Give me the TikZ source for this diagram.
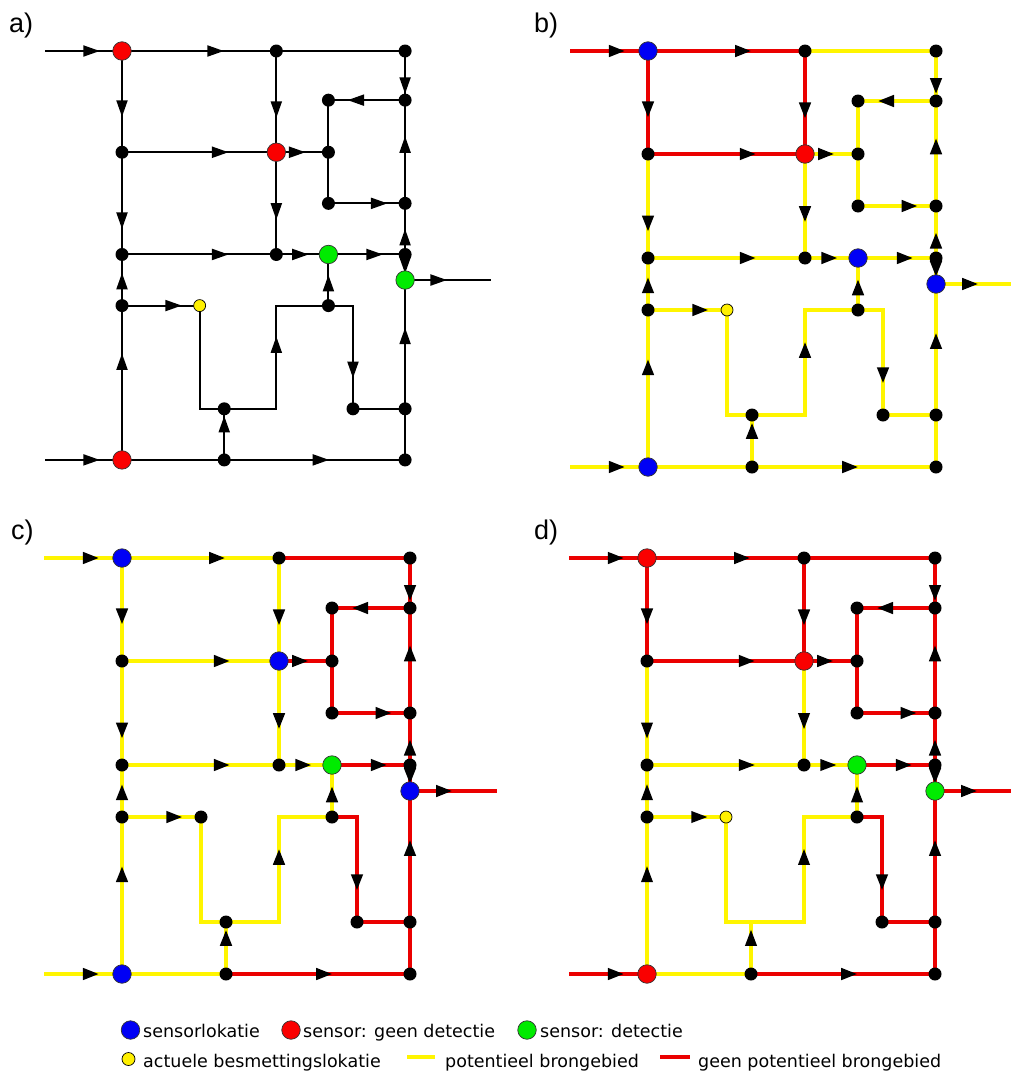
\documentclass[tikz,border=0pt]{standalone}
\usepackage{fontspec}
\setmainfont{DejaVu Sans}
\newfontfamily\labfont{Liberation Sans}
\usetikzlibrary{arrows.meta,decorations.markings,backgrounds}
\definecolor{lnred}{RGB}{235,0,0}
\definecolor{lnyel}{RGB}{255,245,0}
\definecolor{snred}{RGB}{250,0,0}
\definecolor{snblue}{RGB}{0,0,245}
\definecolor{sngreen}{RGB}{0,235,0}
\definecolor{ynode}{RGB}{255,240,0}
\tikzset{
  bdot/.style={circle,fill=black,inner sep=0pt,minimum size=13pt},
  sens/.style={circle,draw=black!80,line width=0.7pt,fill=#1,inner sep=0pt,minimum size=18.5pt},
  ysrc/.style={circle,draw=black,line width=0.7pt,fill=ynode,inner sep=0pt,minimum size=12pt},
  lk/.style={draw=black,line width=2pt},
  lr/.style={draw=lnred,line width=4pt},
  ly/.style={draw=lnyel,line width=4.2pt},
  lyr/.style={draw=lnyel,line width=3.4pt,preaction={draw=lnred,line width=4.8pt}},
  tipat/.style={postaction={decorate,decoration={markings,mark=at position #1 with {\arrow{Triangle[length=16.5pt,width=11pt,color=black]}}}}},
  lgtext/.style={anchor=base west,inner sep=0pt,font=\fontsize{17.5}{20}\selectfont},
  panlab/.style={anchor=base west,inner sep=0pt,font=\labfont\fontsize{27}{30}\selectfont},
}
\newcommand\netnodes[7]{%
 \node[sens=#1] (S1) at (0,0) {};
 \node[bdot] (T2) at (157,0) {};
 \node[bdot] (T3) at (288,0) {};
 \node[bdot] (N1) at (288,50) {};
 \node[bdot] (N2) at (210,50) {};
 \node[bdot] (L1) at (0,103) {};
 \node[sens=#2] (S2) at (157,103) {};
 \node[bdot] (N3) at (210,103) {};
 \node[bdot] (N4) at (210,155) {};
 \node[bdot] (N5) at (288,155) {};
 \node[bdot] (L2) at (0,207) {};
 \node[bdot] (M2) at (157,207) {};
 \node[sens=#3] (S3) at (210,207) {};
 \node[bdot] (N6) at (288,207) {};
 \node[sens=#4] (S4) at (288,233) {};
 \coordinate (OUT) at (375,233);
 \node[bdot] (L3) at (0,259) {};
 \node[#6] (Y) at (79,259) {};
 \node[bdot] (N7) at (210,259) {};
 \node[#7] (B1) at (104,364) {};
 \node[bdot] (N8) at (235,364) {};
 \node[bdot] (N9) at (288,364) {};
 \node[sens=#5] (S5) at (0,416) {};
 \node[bdot] (B2) at (104,416) {};
 \node[bdot] (N10) at (288,416) {};
 \coordinate (INA) at (-78,0);
 \coordinate (INB) at (-78,416);
 \coordinate (K1) at (79,364);
 \coordinate (K2) at (157,364);
 \coordinate (K3) at (157,259);
 \coordinate (K4) at (235,259);
}
\newcommand\netedges{%
 \draw[grpP,tipat=0.71] (INA) -- (S1.center);
 \draw[grpP,tipat=0.66] (S1.center) -- (T2.center);
 \draw[grpQ] (T2.center) -- (T3.center);
 \draw[grpQ,tipat=0.87] (T3.center) -- (N1.center);
 \draw[grpQ,tipat=0.75] (N1.center) -- (N2.center);
 \draw[grpP,tipat=0.66] (T2.center) -- (S2.center);
 \draw[grpP,tipat=0.65] (S1.center) -- (L1.center);
 \draw[grpP,tipat=0.69] (L1.center) -- (S2.center);
 \draw[grpQ,tipat=0.56] (S2.center) -- (N3.center);
 \draw[grpQ] (N2.center) -- (N3.center);
 \draw[grpQ] (N3.center) -- (N4.center);
 \draw[grpQ,tipat=0.77] (N4.center) -- (N5.center);
 \draw[grpQ,tipat=0.65] (N5.center) -- (N1.center);
 \draw[grpY,tipat=0.66] (S2.center) -- (M2.center);
 \draw[grpY,tipat=0.75] (L1.center) -- (L2.center);
 \draw[grpY,tipat=0.69] (L2.center) -- (M2.center);
 \draw[grpY,tipat=0.62] (M2.center) -- (S3.center);
 \draw[grpQ,tipat=0.71] (S3.center) -- (N6.center);
 \draw[grpQ,tipat=0.5] (N6.center) -- (N5.center);
 \draw[grpQ,tipat=0.75] (N6.center) -- (S4.center);
 \draw[grpQ,tipat=0.49] (S4.center) -- (OUT);
 \draw[grpY,tipat=0.64] (L3.center) -- (L2.center);
 \draw[grpY,tipat=0.77] (L3.center) -- (Y.center);
 \draw[grpY] (Y.center) -- (K1) -- (B1.center);
 \draw[grpY,tipat=0.6] (B1.center) -- (K2) -- (K3) -- (N7.center);
 \draw[grpY,tipat=0.6] (N7.center) -- (S3.center);
 \draw[grpQ,tipat=0.76] (N7.center) -- (K4) -- (N8.center);
 \draw[grpQ] (N8.center) -- (N9.center);
 \draw[grpQ,tipat=0.63] (N9.center) -- (S4.center);
 \draw[grpQ] (N10.center) -- (N9.center);
 \draw[grpY,tipat=0.69] (S5.center) -- (L3.center);
 \draw[grpI,tipat=0.71] (INB) -- (S5.center);
 \draw[grpY] (S5.center) -- (B2.center);
 \draw[grpQ,tipat=0.58] (B2.center) -- (N10.center);
 \draw[grpY,tipat=0.86] (B2.center) -- (B1.center);
}
\begin{document}
\begin{tikzpicture}[x=1pt,y=-1pt]
\useasboundingbox (0,0) rectangle (1010,1071);
\begin{pgfonlayer}{background}
\fill[white] (0,0) rectangle (1010,1071);
\end{pgfonlayer}
% panel labels
\node[panlab] (laba) at (9,32) {a)};
\node[panlab] (labb) at (534,32) {b)};
\node[panlab] (labc) at (11,539) {c)};
\node[panlab] (labd) at (534,539) {d)};
% panel a
\begin{scope}[shift={(122,51)},scale=0.983,name prefix=a-,
  grpP/.style=lk,grpQ/.style=lk,grpY/.style=lk,grpI/.style=lk]
 \netnodes{snred}{snred}{sngreen}{sngreen}{snred}{ysrc}{bdot}
 \begin{pgfonlayer}{background}\netedges\end{pgfonlayer}
\end{scope}
% panel b
\begin{scope}[shift={(648,51)},name prefix=b-,
  grpP/.style=lr,grpQ/.style=ly,grpY/.style=ly,grpI/.style=ly]
 \netnodes{snblue}{snred}{snblue}{snblue}{snblue}{ysrc}{bdot}
 \begin{pgfonlayer}{background}\netedges\end{pgfonlayer}
\end{scope}
% panel c
\begin{scope}[shift={(122,558)},name prefix=c-,
  grpP/.style=ly,grpQ/.style=lr,grpY/.style=ly,grpI/.style=ly]
 \netnodes{snblue}{snblue}{sngreen}{snblue}{snblue}{bdot}{bdot}
 \begin{pgfonlayer}{background}\netedges\end{pgfonlayer}
\end{scope}
% panel d
\begin{scope}[shift={(647,558)},name prefix=d-,
  grpP/.style=lr,grpQ/.style=lr,grpY/.style=lyr,grpI/.style=lr]
 \netnodes{snred}{snred}{sngreen}{sngreen}{snred}{ysrc}{coordinate}
 \begin{pgfonlayer}{background}\netedges\end{pgfonlayer}
\end{scope}
% legend
\node[sens=snblue] (lg1) at (130.5,1030) {};
\node[lgtext] (lt1) at (143,1037) {sensorlokatie};
\node[sens=snred] (lg2) at (291,1030) {};
\node[lgtext] (lt2) at (303,1037) {sensor: geen detectie};
\node[sens=sngreen] (lg3) at (527,1030) {};
\node[lgtext] (lt3) at (540,1037) {sensor: detectie};
\node[ysrc,minimum size=13pt] (lg4) at (128.5,1059) {};
\node[lgtext] (lt4) at (143,1067) {actuele besmettingslokatie};
\draw[lnyel,line width=3.5pt] (407,1057) -- (435,1057);
\node[lgtext] (lt5) at (445,1067) {potentieel brongebied};
\draw[lnred,line width=3.5pt] (660,1057) -- (690,1057);
\node[lgtext] (lt6) at (698,1067) {geen potentieel brongebied};
\end{tikzpicture}
\end{document}
